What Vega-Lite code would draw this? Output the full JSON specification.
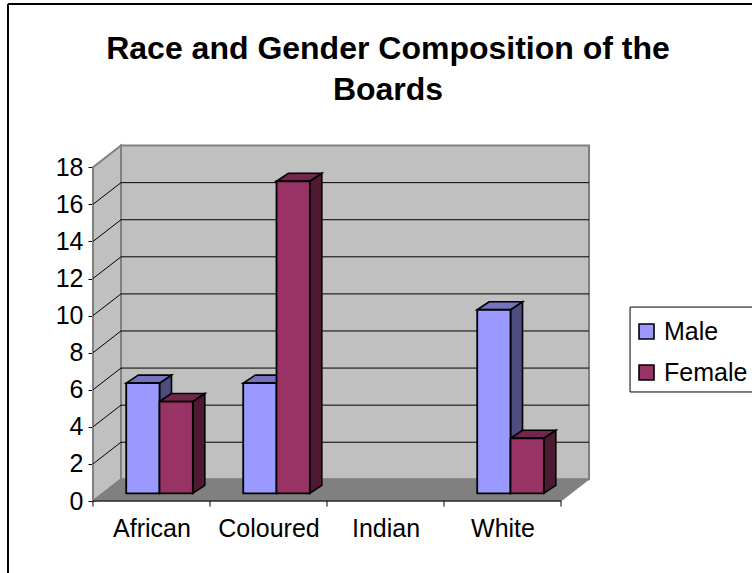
{
  "$schema": "https://vega.github.io/schema/vega-lite/v6.json",
  "width": 496,
  "height": 355,
  "autosize": {"type": "none"},
  "padding": {"left": 93, "top": 146, "right": 163, "bottom": 72},
  "background": "white",
  "title": {
    "text": ["Race and Gender Composition of the", "Boards"],
    "font": "Liberation Sans",
    "fontSize": 32,
    "fontWeight": "bold",
    "color": "black",
    "lineHeight": 41,
    "anchor": "middle",
    "dx": 47,
    "offset": -104
  },
  "config": {"view": {"stroke": null}},
  "data": {"values": [{"box": "chart"}]},
  "datasets": {
    "boards": [
      {"race": "African", "gender": "Male", "members": 6},
      {"race": "African", "gender": "Female", "members": 5},
      {"race": "Coloured", "gender": "Male", "members": 6},
      {"race": "Coloured", "gender": "Female", "members": 17},
      {"race": "White", "gender": "Male", "members": 10},
      {"race": "White", "gender": "Female", "members": 3}
    ],
    "planes": [{"plane": 0}, {"plane": 1}],
    "gridTicks": [{"tick": 2}, {"tick": 4}, {"tick": 6}, {"tick": 8}, {"tick": 10}, {"tick": 12}, {"tick": 14}, {"tick": 16}],
    "categorySlots": [{"slot": 0}, {"slot": 1}, {"slot": 2}, {"slot": 3}, {"slot": 4}]
  },
  "resolve": {"axis": {"x": "independent", "y": "independent"}},
  "layer": [
    {
      "description": "Value axis with its ticks and labels",
      "mark": {"type": "rule", "color": "black", "strokeWidth": 1},
      "encoding": {
        "x": {"datum": 0, "type": "quantitative", "scale": {"domain": [0, 4.2393], "nice": false, "zero": false},
          "axis": {
            "orient": "bottom",
            "title": null,
            "values": [0.5, 1.5, 2.5, 3.5],
            "grid": false,
            "domain": false,
            "ticks": false,
            "labelExpr": "['African','Coloured','Indian','White'][floor(datum.value)]",
            "labelFont": "Liberation Sans",
            "labelFontSize": 25,
            "labelColor": "black",
            "labelPadding": 15
          }
        },
        "y": {
          "datum": 0,
          "type": "quantitative",
          "scale": {"domain": [0, 19.147], "nice": false, "zero": false},
          "axis": {
            "orient": "left",
            "title": null,
            "values": [0, 2, 4, 6, 8, 10, 12, 14, 16, 18],
            "grid": false,
            "domain": false,
            "ticks": true,
            "tickSize": 5,
            "tickColor": "black",
            "labelFont": "Liberation Sans",
            "labelFontSize": 25,
            "labelColor": "black",
            "labelPadding": 5
          }
        },
        "y2": {"datum": 18}
      }
    },
    {
      "description": "Back wall of the chart box",
      "mark": {"type": "rect", "fill": "#C0C0C0", "stroke": "#808080", "strokeWidth": 2},
      "encoding": {
        "x": {"datum": 0.2393, "type": "quantitative", "scale": {"domain": [0, 4.2393], "nice": false, "zero": false}, "axis": null},
        "x2": {"datum": 4.2393},
        "y": {"datum": 1.17, "type": "quantitative", "scale": {"domain": [0, 19.147], "nice": false, "zero": false}, "axis": null},
        "y2": {"datum": 19.17}
      }
    },
    {
      "description": "Left side wall",
      "data": {"name": "planes"},
      "transform": [
        {"calculate": "datum.plane * 0.2393", "as": "wx"},
        {"calculate": "datum.plane * 1.17", "as": "wlo"},
        {"calculate": "18 + datum.plane * 1.17", "as": "whi"}
      ],
      "mark": {"type": "area", "fill": "#C0C0C0", "stroke": "#808080", "strokeWidth": 2},
      "encoding": {
        "x": {"field": "wx", "type": "quantitative", "scale": {"domain": [0, 4.2393], "nice": false, "zero": false}, "axis": null},
        "y": {"field": "wlo", "type": "quantitative", "scale": {"domain": [0, 19.147], "nice": false, "zero": false}, "axis": null},
        "y2": {"field": "whi"}
      }
    },
    {
      "description": "Floor",
      "data": {"name": "planes"},
      "transform": [
        {"calculate": "datum.plane * 0.2393", "as": "fx"},
        {"calculate": "4 + datum.plane * 0.2393", "as": "fx2"},
        {"calculate": "datum.plane * 1.17", "as": "fy"}
      ],
      "mark": {"type": "area", "orient": "horizontal", "fill": "#808080", "stroke": "#808080", "strokeWidth": 1},
      "encoding": {
        "y": {"field": "fy", "type": "quantitative", "scale": {"domain": [0, 19.147], "nice": false, "zero": false}, "axis": null},
        "x": {"field": "fx", "type": "quantitative", "scale": {"domain": [0, 4.2393], "nice": false, "zero": false}, "axis": null},
        "x2": {"field": "fx2"}
      }
    },
    {
      "description": "Gridlines on the back wall",
      "data": {"name": "gridTicks"},
      "transform": [{"calculate": "datum.tick + 1.17", "as": "backY"}],
      "mark": {"type": "rule", "color": "black", "strokeWidth": 1},
      "encoding": {
        "x": {"datum": 0.2393, "type": "quantitative", "scale": {"domain": [0, 4.2393], "nice": false, "zero": false}, "axis": null},
        "x2": {"datum": 4.2393},
        "y": {"field": "backY", "type": "quantitative", "scale": {"domain": [0, 19.147], "nice": false, "zero": false}, "axis": null}
      }
    },
    {
      "description": "Gridlines running back along the side wall",
      "data": {"name": "gridTicks"},
      "transform": [{"calculate": "datum.tick + 1.17", "as": "backY"}],
      "mark": {"type": "rule", "color": "black", "strokeWidth": 1},
      "encoding": {
        "x": {"datum": 0, "type": "quantitative", "scale": {"domain": [0, 4.2393], "nice": false, "zero": false}, "axis": null},
        "x2": {"datum": 0.2393},
        "y": {"field": "tick", "type": "quantitative", "scale": {"domain": [0, 19.147], "nice": false, "zero": false}, "axis": null},
        "y2": {"field": "backY"}
      }
    },
    {
      "description": "Legend box",
      "mark": {"type": "rect", "fill": "white", "stroke": "black", "strokeWidth": 1},
      "encoding": {
        "x": {"datum": 4.59, "type": "quantitative", "scale": {"domain": [0, 4.2393], "nice": false, "zero": false}, "axis": null},
        "x2": {"datum": 6},
        "y": {"datum": 10.46, "type": "quantitative", "scale": {"domain": [0, 19.147], "nice": false, "zero": false}, "axis": null},
        "y2": {"datum": 5.88}
      }
    },
    {
      "description": "Bars: each one is a side face, a top face and a front face",
      "data": {"name": "boards"},
      "transform": [
        {"calculate": "indexof(['African','Coloured','Indian','White'], datum.race)", "as": "slot"},
        {"calculate": "datum.slot + 0.2838 + (datum.gender === 'Female' ? 0.2846 : 0)", "as": "left"},
        {"calculate": "datum.left + 0.2846", "as": "right"},
        {"calculate": "0.415", "as": "base"},
        {"calculate": "datum.base + datum.members * 0.99", "as": "top"},
        {"calculate": "datum.race + datum.gender", "as": "barId"}
      ],
      "layer": [
        {
          "transform": [
            {"calculate": "datum.right", "as": "nearEdge"},
            {"calculate": "datum.right + 0.1026", "as": "farEdge"},
            {"fold": ["nearEdge", "farEdge"], "as": ["edge", "sideX"]},
            {"calculate": "datum.base + (datum.edge === 'farEdge' ? 0.4315 : 0)", "as": "sideLo"},
            {"calculate": "datum.top + (datum.edge === 'farEdge' ? 0.4315 : 0)", "as": "sideHi"}
          ],
          "mark": {"type": "area", "stroke": "black", "strokeWidth": 1.6},
          "encoding": {
            "detail": {"field": "barId"},
            "fill": {"condition": {"test": "datum.gender === 'Male'", "value": "#4D4D80"}, "value": "#4D1933"},
            "x": {"field": "sideX", "type": "quantitative", "scale": {"domain": [0, 4.2393], "nice": false, "zero": false}, "axis": null},
            "y": {"field": "sideLo", "type": "quantitative", "scale": {"domain": [0, 19.147], "nice": false, "zero": false}, "axis": null},
            "y2": {"field": "sideHi"}
          }
        },
        {
          "transform": [
            {"calculate": "datum.top", "as": "nearEdge"},
            {"calculate": "datum.top + 0.4315", "as": "farEdge"},
            {"fold": ["nearEdge", "farEdge"], "as": ["edge", "topY"]},
            {"calculate": "datum.left + (datum.edge === 'farEdge' ? 0.1026 : 0)", "as": "topL"},
            {"calculate": "datum.right + (datum.edge === 'farEdge' ? 0.1026 : 0)", "as": "topR"}
          ],
          "mark": {"type": "area", "orient": "horizontal", "stroke": "black", "strokeWidth": 1.6},
          "encoding": {
            "detail": {"field": "barId"},
            "fill": {"condition": {"test": "datum.gender === 'Male'", "value": "#7373BF"}, "value": "#73264D"},
            "y": {"field": "topY", "type": "quantitative", "scale": {"domain": [0, 19.147], "nice": false, "zero": false}, "axis": null},
            "x": {"field": "topL", "type": "quantitative", "scale": {"domain": [0, 4.2393], "nice": false, "zero": false}, "axis": null},
            "x2": {"field": "topR"}
          }
        },
        {
          "mark": {"type": "rect", "stroke": "black", "strokeWidth": 1.8},
          "encoding": {
            "x": {"field": "left", "type": "quantitative", "scale": {"domain": [0, 4.2393], "nice": false, "zero": false}, "axis": null},
            "x2": {"field": "right"},
            "y": {"field": "base", "type": "quantitative", "scale": {"domain": [0, 19.147], "nice": false, "zero": false}, "axis": null},
            "y2": {"field": "top"},
            "fill": {
              "field": "gender",
              "type": "nominal",
              "scale": {"domain": ["Male", "Female"], "range": ["#9999FF", "#993366"]},
              "legend": {
                "orient": "none",
                "legendX": 541,
                "legendY": 173,
                "title": null,
                "symbolType": "square",
                "symbolSize": 225,
                "symbolStrokeColor": "black",
                "symbolStrokeWidth": 1.6,
                "symbolOpacity": 1,
                "labelFont": "Liberation Sans",
                "labelFontSize": 25,
                "labelColor": "black",
                "labelOffset": 5,
                "rowPadding": 15,
                "padding": 0
              }
            }
          }
        }
      ]
    },
    {
      "description": "Category axis baseline",
      "mark": {"type": "rule", "color": "black", "strokeWidth": 1},
      "encoding": {
        "x": {"datum": 0, "type": "quantitative", "scale": {"domain": [0, 4.2393], "nice": false, "zero": false}, "axis": null},
        "x2": {"datum": 4},
        "y": {"datum": 0, "type": "quantitative", "scale": {"domain": [0, 19.147], "nice": false, "zero": false}, "axis": null}
      }
    },
    {
      "description": "Ticks between categories",
      "data": {"name": "categorySlots"},
      "mark": {"type": "rule", "color": "black", "strokeWidth": 1},
      "encoding": {
        "x": {"field": "slot", "type": "quantitative", "scale": {"domain": [0, 4.2393], "nice": false, "zero": false}, "axis": null},
        "y": {"datum": 0, "type": "quantitative", "scale": {"domain": [0, 19.147], "nice": false, "zero": false}, "axis": null},
        "y2": {"datum": -0.3}
      }
    },
    {
      "description": "Outer chart frame, left edge",
      "mark": {"type": "rule", "color": "black", "strokeWidth": 2},
      "encoding": {
        "x": {"datum": -0.7265, "type": "quantitative", "scale": {"domain": [0, 4.2393], "nice": false, "zero": false}, "axis": null},
        "y": {"datum": -4.5, "type": "quantitative", "scale": {"domain": [0, 19.147], "nice": false, "zero": false}, "axis": null},
        "y2": {"datum": 26.81}
      }
    },
    {
      "description": "Outer chart frame, top edge",
      "mark": {"type": "rule", "color": "black", "strokeWidth": 2},
      "encoding": {
        "x": {"datum": -0.7265, "type": "quantitative", "scale": {"domain": [0, 4.2393], "nice": false, "zero": false}, "axis": null},
        "x2": {"datum": 5.7},
        "y": {"datum": 26.81, "type": "quantitative", "scale": {"domain": [0, 19.147], "nice": false, "zero": false}, "axis": null}
      }
    }
  ]
}
